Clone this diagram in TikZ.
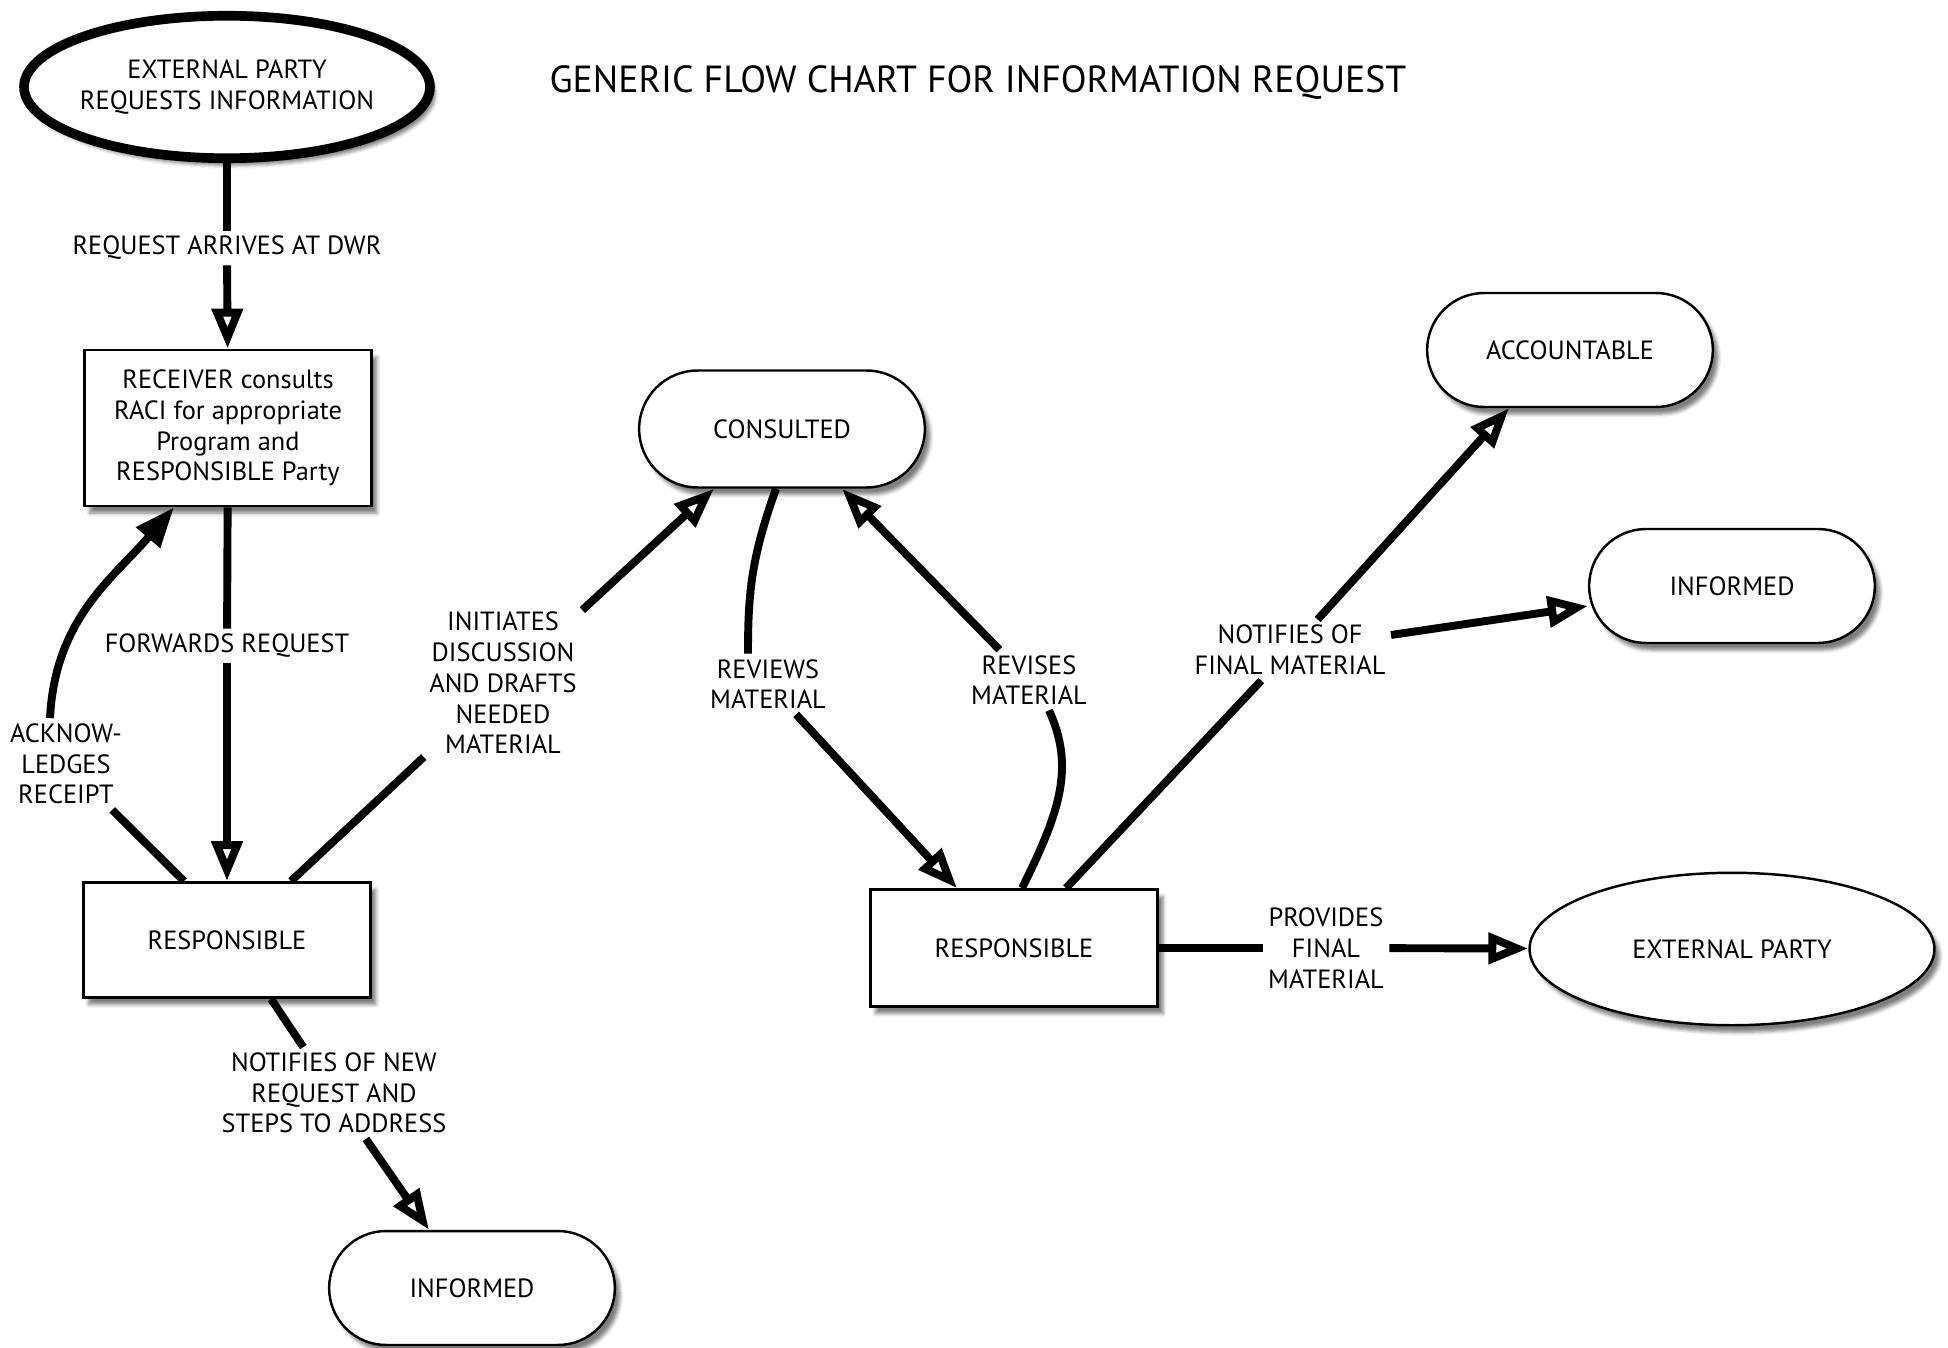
\documentclass[tikz,border=0pt]{standalone}
\usepackage{fontspec}
\setmainfont{PT Sans}
\usetikzlibrary{positioning,arrows.meta,calc,shapes.geometric,shapes.misc,shadows.blur}

\begin{document}
\begin{tikzpicture}[x=0.02cm,y=-0.02cm,font=\fontsize{15}{17.5}\selectfont,
  shade/.style={blur shadow={shadow xshift=3pt,shadow yshift=-4pt,shadow opacity=50}},
  thickoval/.style={ellipse, draw, line width=5.5pt, fill=white, shade, inner xsep=-2pt, minimum width=8.1cm, minimum height=2.85cm, align=center},
  oval/.style={ellipse, draw, line width=1.4pt, fill=white, shade, minimum width=8.1cm, minimum height=3.05cm},
  procbox/.style={rectangle, draw, line width=1.6pt, fill=white, shade, minimum width=5.75cm, align=center},
  pill/.style={rounded rectangle, draw, line width=1.4pt, fill=white, shade, minimum width=5.95cm, minimum height=2.28cm},
  lbl/.style={fill=white, inner sep=3pt, align=center},
  flow/.style={line width=4.5pt},
  tipopen/.style={-{Triangle[open,length=8mm,width=6mm]}},
  tipfill/.style={-{Triangle[length=8mm,width=6mm]}}]
\useasboundingbox (0,0) rectangle (1948,1348);

% boxes
\node[thickoval] (extA) at (227,87) {EXTERNAL PARTY\\REQUESTS INFORMATION};
\node[font=\fontsize{21.5}{25}\selectfont] (title) at (978,83) {GENERIC FLOW CHART FOR INFORMATION REQUEST};
\node[procbox, minimum height=3.12cm] (recv) at (228,428) {RECEIVER consults\\RACI for appropriate\\Program and\\RESPONSIBLE Party};
\node[procbox, minimum height=2.3cm] (resL) at (227,940) {RESPONSIBLE};
\node[pill] (infB) at (472,1288) {INFORMED};
\node[pill, minimum height=2.34cm] (cons) at (782,429) {CONSULTED};
\node[procbox, minimum height=2.34cm] (resR) at (1014,948) {RESPONSIBLE};
\node[pill] (acc) at (1570,350) {ACCOUNTABLE};
\node[pill] (infR) at (1732,586) {INFORMED};
\node[oval] (extB) at (1732,949) {EXTERNAL PARTY};

% labels
\node[lbl] (lblArr) at (227,248) {REQUEST ARRIVES AT DWR};
\node[lbl] (lblFwd) at (227,646) {FORWARDS REQUEST};
\node[lbl] (lblAck) at (66,764) {ACKNOW-\\LEDGES\\RECEIPT};
\node[lbl] (lblInit) at (503,683) {INITIATES\\DISCUSSION\\AND DRAFTS\\NEEDED\\MATERIAL};
\node[lbl] (lblNew) at (334,1093) {NOTIFIES OF NEW\\REQUEST AND\\STEPS TO ADDRESS};
\node[lbl] (lblRev) at (768,684) {REVIEWS\\MATERIAL};
\node[lbl] (lblRevise) at (1029,680) {REVISES\\MATERIAL};
\node[lbl] (lblFinal) at (1290,650) {NOTIFIES OF\\FINAL MATERIAL};
\node[lbl] (lblProv) at (1326,948) {PROVIDES\\FINAL\\MATERIAL};

% connectors
\draw[flow] (extA) -- (lblArr);
\draw[flow,tipopen] (lblArr) -- (recv);
\draw[flow] (recv) -- (lblFwd);
\draw[flow,tipopen] (lblFwd) -- (resL);
\draw[flow] ($(resL.north)+(-43,0)$) -- (lblAck);
\draw[flow,tipfill] ($(lblAck.north)+(-16,0)$) .. controls +(5,-100) and +(-60,70) .. ($(recv.south)+(-54,0)$);
\draw[flow] ($(resL.north)+(64,0)$) -- (lblInit);
\draw[flow,tipopen] (lblInit) -- ($(cons.south)+(-68,0)$);
\draw[flow] ($(resL.south)+(44,0)$) -- (lblNew);
\draw[flow,tipopen] (lblNew) -- ($(infB.north)+(-43,0)$);
\draw[flow] ($(cons.south)+(-6,0)$) .. controls +(-25,70) and +(0,-60) .. ($(lblRev.north)+(-20,0)$);
\draw[flow,tipopen] (lblRev) -- ($(resR.north)+(-57,0)$);
\draw[flow] ($(resR.north)+(8,0)$) .. controls +(40,-80) and +(25,55) .. ($(lblRevise.south)+(20,0)$);
\draw[flow,tipopen] (lblRevise) -- ($(cons.south)+(60,0)$);
\draw[flow] ($(resR.north)+(52,0)$) -- (lblFinal);
\draw[flow,tipopen] (lblFinal) -- ($(acc.south)+(-61,0)$);
\draw[flow,tipopen] ($(lblFinal.east)+(0,-15)$) -- ($(infR.west)+(0,20)$);
\draw[flow] (resR) -- (lblProv);
\draw[flow,tipopen] (lblProv) -- (extB);
\end{tikzpicture}
\end{document}
